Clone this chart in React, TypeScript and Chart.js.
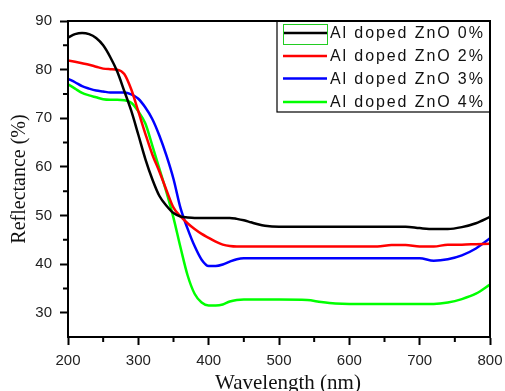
import { useEffect, useRef } from 'react';
import { Chart, registerables } from 'chart.js';

Chart.register(...registerables);

const wavelengths = [200, 210, 220, 230, 240, 250, 260, 270, 280, 290, 300, 310, 320, 330, 340, 350, 360, 370, 380, 390, 400, 410, 420, 430, 440, 450, 460, 470, 480, 500, 540, 560, 580, 600, 640, 660, 680, 700, 720, 740, 760, 780, 800];

const al0 = [86.6, 87.3, 87.55, 87.3, 86.5, 85.0, 82.6, 79.6, 75.6, 71.5, 66.6, 61.6, 57.4, 54.0, 52.0, 50.5, 49.8, 49.6, 49.5, 49.5, 49.5, 49.5, 49.5, 49.5, 49.3, 49.0, 48.6, 48.2, 47.9, 47.7, 47.7, 47.7, 47.7, 47.7, 47.7, 47.7, 47.7, 47.4, 47.2, 47.2, 47.6, 48.4, 49.7];
const al2 = [81.9, 81.6, 81.3, 81.0, 80.6, 80.2, 80.1, 80.0, 79.1, 75.9, 71.4, 66.8, 62.5, 59.0, 55.2, 51.6, 49.8, 48.4, 47.2, 46.2, 45.4, 44.6, 44.0, 43.7, 43.6, 43.6, 43.6, 43.6, 43.6, 43.6, 43.6, 43.6, 43.6, 43.6, 43.6, 43.9, 43.9, 43.6, 43.6, 44.0, 44.0, 44.1, 44.2];
const al3 = [78.1, 77.4, 76.6, 76.1, 75.7, 75.5, 75.3, 75.3, 75.3, 74.9, 74.0, 72.2, 69.8, 66.4, 62.3, 57.5, 51.5, 47.3, 43.7, 40.9, 39.6, 39.6, 39.9, 40.5, 41.0, 41.2, 41.2, 41.2, 41.2, 41.2, 41.2, 41.2, 41.2, 41.2, 41.2, 41.2, 41.2, 41.2, 40.7, 41.0, 41.8, 43.2, 45.3];
const al4 = [77.0, 76.1, 75.2, 74.7, 74.3, 73.9, 73.8, 73.8, 73.7, 73.2, 71.4, 68.9, 64.3, 59.6, 54.8, 49.5, 43.4, 37.7, 33.9, 32.1, 31.5, 31.5, 31.7, 32.3, 32.6, 32.7, 32.7, 32.7, 32.7, 32.7, 32.6, 32.2, 31.9, 31.8, 31.8, 31.8, 31.8, 31.8, 31.8, 32.1, 32.8, 33.9, 35.8];

const seriesLabels = ['Al doped ZnO 0%', 'Al doped ZnO 2%', 'Al doped ZnO 3%', 'Al doped ZnO 4%'];
const seriesColors = ['#000000', '#ff0000', '#0000ff', '#00ff00'];
const seriesValues = [al0, al2, al3, al4];

const xTicks = [200, 300, 400, 500, 600, 700, 800];
const yTicks = [30, 40, 50, 60, 70, 80, 90];
const xMinorTicks = [250, 350, 450, 550, 650, 750];
const yMinorTicks = [35, 45, 55, 65, 75, 85];

const xTitle = 'Wavelength (nm)';
const yTitle = 'Reflectance (%)';

const framePlugin = {
  id: 'frameAndMinor',
  afterDraw(chart: any) {
    const { ctx, chartArea, scales } = chart;
    ctx.save();
    ctx.strokeStyle = '#000';
    ctx.lineWidth = 2;
    ctx.strokeRect(chartArea.left, chartArea.top, chartArea.right - chartArea.left, chartArea.bottom - chartArea.top);
    ctx.beginPath();
    for (const v of xMinorTicks) {
      const px = scales.x.getPixelForValue(v);
      ctx.moveTo(px, chartArea.bottom);
      ctx.lineTo(px, chartArea.bottom + 5);
    }
    for (const v of yMinorTicks) {
      const py = scales.y.getPixelForValue(v);
      ctx.moveTo(chartArea.left, py);
      ctx.lineTo(chartArea.left - 5, py);
    }
    ctx.stroke();
    // x-axis title (slightly right of centre, as in the reference)
    ctx.fillStyle = '#111';
    ctx.font = '21px "Liberation Serif", "Times New Roman", serif';
    ctx.textAlign = 'center';
    ctx.textBaseline = 'alphabetic';
    const cx = (chartArea.left + chartArea.right) / 2 + 9;
    ctx.fillText(xTitle, cx, chart.height - 2);
    ctx.restore();
  },
};

const legendPlugin = {
  id: 'boxLegend',
  afterDatasetsDraw(chart: any) {
    const { ctx, chartArea } = chart;
    const w = 213;
    const h = 91;
    const left = chartArea.right - w;
    const top = chartArea.top;
    ctx.save();
    ctx.fillStyle = '#fff';
    ctx.fillRect(left, top, w, h);
    ctx.strokeStyle = '#000';
    ctx.lineWidth = 1.2;
    ctx.strokeRect(left, top, w, h);
    const rows = [12, 35, 57.5, 81];
    chart.data.datasets.forEach((ds: any, i: number) => {
      const y = top + rows[i];
      ctx.strokeStyle = ds.borderColor;
      ctx.lineWidth = 2.5;
      ctx.beginPath();
      ctx.moveTo(left + 6, y);
      ctx.lineTo(left + 50, y);
      ctx.stroke();
      if (i === 0) {
        ctx.strokeStyle = '#22cc22';
        ctx.lineWidth = 1;
        ctx.strokeRect(left + 6.5, y - 8.5, 44, 20);
      }
      ctx.fillStyle = '#111';
      ctx.font = '16px "Liberation Sans", Arial, sans-serif';
      (ctx as any).letterSpacing = '1.9px';
      ctx.textBaseline = 'middle';
      ctx.textAlign = 'left';
      ctx.fillText(ds.label, left + 53, y + 1);
      (ctx as any).letterSpacing = '0px';
    });
    ctx.restore();
  },
};

export default function App() {
  const canvasRef = useRef<HTMLCanvasElement | null>(null);

  useEffect(() => {
    if (!canvasRef.current) return;
    const chart = new Chart(canvasRef.current, {
      type: 'line',
      data: {
        datasets: seriesValues.map((vals, i) => ({
          label: seriesLabels[i],
          data: wavelengths.map((x, j) => ({ x, y: vals[j] })),
          borderColor: seriesColors[i],
          backgroundColor: seriesColors[i],
          borderWidth: 2.5,
          pointRadius: 0,
          cubicInterpolationMode: 'monotone' as const,
          fill: false,
        })),
      },
      options: {
        animation: false,
        responsive: true,
        maintainAspectRatio: false,
        layout: { padding: { top: 21, right: 15, left: 0, bottom: 0 } },
        plugins: {
          legend: { display: false },
          tooltip: { enabled: false },
        },
        scales: {
          x: {
            type: 'linear',
            min: 200,
            max: 800,
            afterBuildTicks: (scale: any) => {
              scale.ticks = xTicks.map((v) => ({ value: v }));
            },
            afterFit: (scale: any) => {
              scale.height = 54;
              scale.paddingLeft = 0;
              scale.paddingRight = 0;
            },
            grid: {
              drawOnChartArea: false,
              drawTicks: true,
              tickLength: 8,
              tickColor: '#000',
              tickWidth: 2,
            },
            border: { display: true, color: '#000', width: 2 },
            ticks: {
              color: '#222',
              padding: 7,
              maxRotation: 0,
              font: { family: '"Liberation Sans", Arial, sans-serif', size: 15 },
            },
            title: { display: false, text: xTitle },
          },
          y: {
            type: 'linear',
            min: 25,
            max: 90,
            afterBuildTicks: (scale: any) => {
              scale.ticks = yTicks.map((v) => ({ value: v }));
            },
            afterFit: (scale: any) => {
              scale.width = 68;
              scale.paddingTop = 0;
              scale.paddingBottom = 0;
            },
            grid: {
              drawOnChartArea: false,
              drawTicks: true,
              tickLength: 8,
              tickColor: '#000',
              tickWidth: 2,
            },
            border: { display: true, color: '#000', width: 2 },
            ticks: {
              color: '#222',
              padding: 8,
              font: { family: '"Liberation Sans", Arial, sans-serif', size: 15 },
            },
            title: {
              display: true,
              text: yTitle,
              color: '#111',
              font: { family: '"Liberation Serif", "Times New Roman", serif', size: 20, lineHeight: 1 },
              padding: { top: 10, bottom: 0 },
            },
          },
        },
      },
      plugins: [legendPlugin, framePlugin],
    });
    return () => chart.destroy();
  }, []);

  return (
    <div style={{ position: 'fixed', left: 0, top: 0, width: 505, height: 391, background: '#fff' }}>
      <canvas ref={canvasRef} />
    </div>
  );
}
